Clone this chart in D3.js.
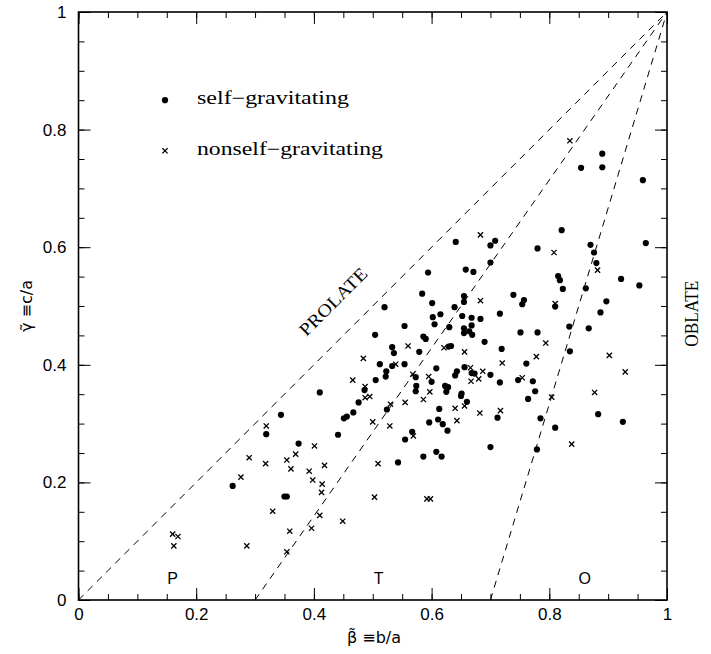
<!DOCTYPE html>
<html>
<head>
<meta charset="utf-8">
<script src="https://cdn.jsdelivr.net/npm/d3@7"></script>
<style>
  html, body { margin: 0; padding: 0; background: #fff; }
  svg { display: block; }
</style>
</head>
<body>
<svg id="chart" width="711" height="654"></svg>
<script>
// ---- data ----
const selfGravitating = [
  [0.594,0.557],[0.584,0.521],[0.601,0.505],[0.602,0.481],[0.605,0.469],[0.520,0.498],
  [0.554,0.466],[0.504,0.451],[0.586,0.448],[0.590,0.444],[0.533,0.430],[0.536,0.420],
  [0.579,0.422],[0.512,0.401],[0.533,0.398],[0.554,0.401],[0.608,0.394],[0.523,0.389],
  [0.522,0.380],[0.573,0.379],[0.505,0.374],[0.600,0.371],[0.574,0.364],[0.573,0.355],
  [0.410,0.353],[0.486,0.357],
  [0.821,0.629],[0.641,0.609],[0.700,0.603],[0.708,0.611],[0.780,0.598],[0.870,0.604],
  [0.876,0.591],[0.880,0.573],[0.964,0.607],[0.700,0.574],[0.658,0.562],[0.671,0.558],
  [0.815,0.551],[0.818,0.544],[0.823,0.529],[0.862,0.530],[0.922,0.546],[0.953,0.535],
  [0.739,0.519],[0.757,0.510],[0.754,0.503],[0.810,0.499],[0.897,0.508],[0.887,0.489],
  [0.655,0.517],[0.655,0.507],[0.639,0.498],[0.615,0.486],[0.652,0.483],[0.668,0.480],
  [0.683,0.478],[0.716,0.487],[0.630,0.464],[0.668,0.467],[0.655,0.462],[0.655,0.454],
  [0.664,0.457],[0.669,0.451],[0.834,0.465],[0.867,0.462],[0.751,0.455],[0.780,0.455],
  [0.690,0.439],[0.719,0.427],[0.835,0.423],[0.761,0.402],[0.629,0.431],[0.633,0.432],
  [0.656,0.396],[0.640,0.382],[0.643,0.389],[0.668,0.386],[0.673,0.385],[0.700,0.383],
  [0.623,0.364],[0.625,0.354],[0.628,0.362],[0.651,0.351],[0.650,0.347],[0.716,0.370],
  [0.747,0.374],[0.772,0.372],[0.776,0.355],[0.764,0.342],
  [0.890,0.759],[0.854,0.735],[0.890,0.736],[0.959,0.714],
  [0.344,0.315],[0.319,0.282],[0.374,0.266],[0.441,0.281],[0.456,0.312],[0.451,0.309],
  [0.262,0.194],[0.350,0.176],[0.354,0.176],
  [0.476,0.336],[0.467,0.319],[0.660,0.337],[0.785,0.309],[0.613,0.325],[0.524,0.324],
  [0.596,0.302],[0.611,0.307],[0.619,0.299],[0.627,0.288],[0.567,0.286],[0.555,0.273],
  [0.712,0.310],[0.700,0.260],[0.586,0.244],[0.608,0.252],[0.617,0.244],[0.543,0.234],
  [0.779,0.256],
  [0.810,0.293],[0.883,0.316],[0.925,0.303]
];

const nonselfGravitating = [
  [0.560,0.432],[0.484,0.411],[0.539,0.401],[0.568,0.384],[0.595,0.380],[0.466,0.374],
  [0.597,0.354],[0.487,0.363],[0.495,0.346],[0.487,0.344],
  [0.683,0.621],[0.808,0.591],[0.882,0.561],[0.683,0.509],[0.621,0.429],[0.656,0.422],
  [0.720,0.403],[0.794,0.437],[0.778,0.414],[0.902,0.416],[0.929,0.388],[0.666,0.395],
  [0.687,0.389],[0.680,0.376],[0.667,0.372],[0.754,0.378],[0.877,0.353],[0.804,0.345],
  [0.810,0.504],
  [0.835,0.781],
  [0.319,0.296],[0.290,0.242],[0.318,0.232],[0.354,0.238],[0.369,0.248],[0.361,0.223],
  [0.401,0.262],[0.392,0.219],[0.418,0.229],[0.398,0.204],[0.414,0.197],[0.413,0.183],
  [0.276,0.209],[0.330,0.151],[0.410,0.144],[0.396,0.122],[0.359,0.117],[0.449,0.134],
  [0.354,0.082],[0.286,0.092],[0.160,0.112],[0.169,0.108],[0.162,0.092],
  [0.530,0.333],[0.555,0.336],[0.586,0.341],[0.500,0.303],[0.529,0.296],[0.569,0.279],
  [0.640,0.326],[0.656,0.330],[0.643,0.305],[0.682,0.318],[0.717,0.322],[0.509,0.232],
  [0.503,0.175],[0.592,0.172],[0.598,0.172],
  [0.838,0.265]
];

// boundary lines: start at (b0, 0) and run to (1, 1)
const boundaryStarts = [0, 0.3, 0.7];
const majorTicks = [0, 0.2, 0.4, 0.6, 0.8, 1];
const minorTicks = d3.range(0, 1.0001, 0.05).map(v => +v.toFixed(2));
const regionLabels = [{text: "P", x: 0.16}, {text: "T", x: 0.51}, {text: "O", x: 0.86}];
const legendItems = [
  {label: "self\u2212gravitating", kind: "dot"},
  {label: "nonself\u2212gravitating", kind: "cross"}
];
const xTitle = "\u03B2\u0303 \u2261b/a";
const yTitle = "\u03B3\u0303 \u2261c/a";

// ---- drawing ----
const svg = d3.select("#chart");
const x = d3.scaleLinear().domain([0, 1]).range([78.5, 667]);
const y = d3.scaleLinear().domain([0, 1]).range([600, 12]);
const SANS = "'Liberation Sans', Arial, sans-serif";
const SERIF = "'Liberation Serif', 'Times New Roman', serif";
const DEJAVU = "'DejaVu Sans', sans-serif";

const fmt = d => d === 0 ? "0" : d === 1 ? "1" : d.toFixed(1);

function styleAxis(g) {
  g.select(".domain").remove();
  g.selectAll("line").attr("stroke", "#000").attr("stroke-width", 1);
  g.selectAll("text").attr("fill", "#000");
}

// minor ticks
svg.append("g").attr("transform", `translate(0,${y(0)})`)
  .call(d3.axisBottom(x).tickValues(minorTicks).tickSize(-6).tickFormat(""))
  .call(styleAxis);
svg.append("g").attr("transform", `translate(0,${y(1)})`)
  .call(d3.axisTop(x).tickValues(minorTicks).tickSize(-6).tickFormat(""))
  .call(styleAxis);
svg.append("g").attr("transform", `translate(${x(0)},0)`)
  .call(d3.axisLeft(y).tickValues(minorTicks).tickSize(-6).tickFormat(""))
  .call(styleAxis);
svg.append("g").attr("transform", `translate(${x(1)},0)`)
  .call(d3.axisRight(y).tickValues(minorTicks).tickSize(-6).tickFormat(""))
  .call(styleAxis);

// major ticks
svg.append("g").attr("transform", `translate(0,${y(0)})`)
  .call(d3.axisBottom(x).tickValues(majorTicks).tickSize(-12).tickPadding(8).tickFormat(fmt))
  .call(styleAxis)
  .attr("font-family", SANS).attr("font-size", 17);
svg.append("g").attr("transform", `translate(0,${y(1)})`)
  .call(d3.axisTop(x).tickValues(majorTicks).tickSize(-12).tickFormat(""))
  .call(styleAxis);
svg.append("g").attr("transform", `translate(${x(0)},0)`)
  .call(d3.axisLeft(y).tickValues(majorTicks).tickSize(-12).tickPadding(12).tickFormat(fmt))
  .call(styleAxis)
  .attr("font-family", SANS).attr("font-size", 17);
svg.append("g").attr("transform", `translate(${x(1)},0)`)
  .call(d3.axisRight(y).tickValues(majorTicks).tickSize(-12).tickFormat(""))
  .call(styleAxis);

// frame
svg.append("rect")
  .attr("x", x(0)).attr("y", y(1))
  .attr("width", x(1) - x(0)).attr("height", y(0) - y(1))
  .attr("fill", "none").attr("stroke", "#000").attr("stroke-width", 1.6);

// dashed boundary lines
svg.append("g").selectAll("line").data(boundaryStarts).join("line")
  .attr("x1", d => x(d)).attr("y1", y(0))
  .attr("x2", x(1)).attr("y2", y(1))
  .attr("stroke", "#000").attr("stroke-width", 1)
  .attr("stroke-dasharray", "7,6");

// points: self-gravitating
svg.append("g").selectAll("circle").data(selfGravitating).join("circle")
  .attr("cx", d => x(d[0])).attr("cy", d => y(d[1]))
  .attr("r", 3.1).attr("fill", "#000");

// points: nonself-gravitating (crosses)
const cs = 2.6;
svg.append("g").selectAll("path").data(nonselfGravitating).join("path")
  .attr("d", d => {
    const cx = x(d[0]), cy = y(d[1]);
    return `M${cx - cs},${cy - cs}L${cx + cs},${cy + cs}M${cx - cs},${cy + cs}L${cx + cs},${cy - cs}`;
  })
  .attr("stroke", "#000").attr("stroke-width", 1.3).attr("fill", "none");

// legend
const legendX = 0.147;
const legendY = [0.850, 0.764];
const lg = svg.append("g");
legendItems.forEach((item, i) => {
  const px = x(legendX), py = y(legendY[i]);
  if (item.kind === "dot") {
    lg.append("circle").attr("cx", px).attr("cy", py).attr("r", 3.1).attr("fill", "#000");
  } else {
    lg.append("path")
      .attr("d", `M${px - cs},${py - cs}L${px + cs},${py + cs}M${px - cs},${py + cs}L${px + cs},${py - cs}`)
      .attr("stroke", "#000").attr("stroke-width", 1.3);
  }
  lg.append("text")
    .attr("x", px + 32).attr("y", py + 4)
    .attr("font-family", SERIF).attr("font-size", 18)
    .attr("textLength", i === 0 ? 152 : 186).attr("lengthAdjust", "spacingAndGlyphs")
    .text(item.label);
});

// region labels
svg.append("g").selectAll("text").data(regionLabels).join("text")
  .attr("x", d => x(d.x)).attr("y", y(0.027))
  .attr("text-anchor", "middle")
  .attr("font-family", SANS).attr("font-size", 16)
  .text(d => d.text);

// PROLATE label
svg.append("text")
  .attr("transform", `translate(${x(0.44)},${y(0.50)}) rotate(-45)`)
  .attr("text-anchor", "middle")
  .attr("font-family", SERIF).attr("font-size", 18)
  .attr("textLength", 88).attr("lengthAdjust", "spacingAndGlyphs")
  .text("PROLATE");

// OBLATE label
svg.append("text")
  .attr("transform", `translate(${x(1) + 31},${y(0.487)}) rotate(-90)`)
  .attr("text-anchor", "middle")
  .attr("font-family", SERIF).attr("font-size", 18)
  .attr("textLength", 66).attr("lengthAdjust", "spacingAndGlyphs")
  .text("OBLATE");

// axis titles
svg.append("text")
  .attr("x", 374).attr("y", 643)
  .attr("text-anchor", "middle")
  .attr("font-family", DEJAVU).attr("font-size", 16)
  .text(xTitle);
svg.append("text")
  .attr("transform", `translate(32,${y(0.5)}) rotate(-90)`)
  .attr("text-anchor", "middle")
  .attr("font-family", DEJAVU).attr("font-size", 16)
  .text(yTitle);
</script>
</body>
</html>
